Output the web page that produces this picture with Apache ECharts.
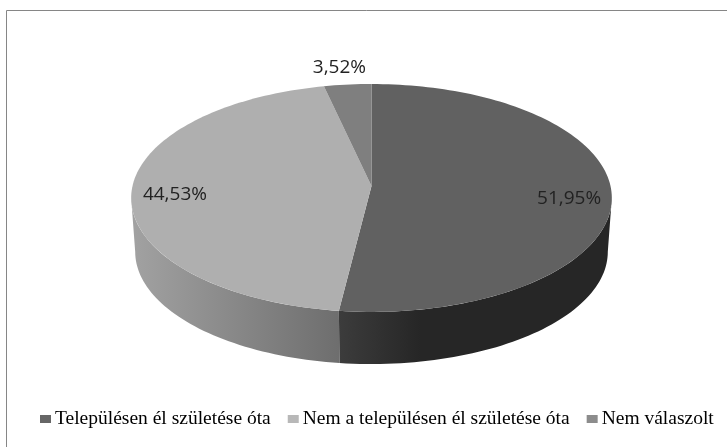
<!DOCTYPE html>
<html>
<head>
<meta charset="utf-8">
<style>html,body{margin:0;padding:0;background:#fff}#chart{width:727px;height:447px}</style>
<script src="https://cdn.jsdelivr.net/npm/echarts@6/dist/echarts.min.js"></script>
</head>
<body>
<div id="chart"></div>
<script>
const names = ['Településen él születése óta', 'Nem a településen él születése óta', 'Nem válaszolt']
const values = [51.95, 44.53, 3.52]
const labels = ['51,95%', '44,53%', '3,52%']

const topColors = ['#616161', '#afafaf', '#7f7f7f']
const legendColors = ['#666666', '#b8b8b8', '#8c8c8c']
const sideColors = [['#3c3c3c', '#262626'], ['#a2a2a2', '#6e6e6e'], ['#6e6e6e', '#6e6e6e']]
const labelRadius = [0.82, 0.82, 1.2]
const labelShift = [[1, 7], [0, 4], [-4, 1]]

// tilted pie: circle goes through a small perspective so the centre sits above the ellipse middle
const upperFace = { cx: 371.5, cy: 186, rx: 239, ry: 112.7, k: 0.105 }
const lowerFace = { cx: 371.5, cy: 240, rx: 235, ry: 111, k: 0.105 }
// the widest points of the faces, where the side wall starts and stops
const wallFrom = 96
const wallTo = 264

function project(p, deg, r) {
  const a = deg * Math.PI / 180
  const u = Math.sin(a) * r
  const v = Math.cos(a) * r
  const d = 1 + p.k * v
  return [p.cx + p.rx * u / d, p.cy - p.ry * v / d]
}

function arc(p, from, to) {
  const pts = []
  const n = Math.max(2, Math.ceil(Math.abs(to - from) / 1.5))
  for (let i = 0; i <= n; i++) pts.push(project(p, from + (to - from) * i / n, 1))
  return pts
}

const total = values.reduce((a, b) => a + b, 0)
let acc = 0
const starts = values.map(v => { const s = acc; acc += v; return s })

function renderSlice(idx) {
  return function (params, api) {
    const from = api.value(0) / total * 360
    const to = from + api.value(1) / total * 360
    const children = []

    // side wall, only the part turned to the viewer
    const sFrom = Math.max(from, wallFrom)
    const sTo = Math.min(to, wallTo)
    if (sTo > sFrom) {
      const upper = arc(upperFace, sFrom, sTo)
      const lower = arc(lowerFace, sFrom, sTo).reverse()
      children.push({
        type: 'polygon',
        shape: { points: upper.concat(lower) },
        style: {
          fill: new echarts.graphic.LinearGradient(0, 0, 1, 0, idx === 1
            ? [{ offset: 0, color: sideColors[idx][0] }, { offset: 1, color: sideColors[idx][1] }]
            : [{ offset: 0, color: sideColors[idx][0] }, { offset: 0.3, color: sideColors[idx][1] }, { offset: 1, color: sideColors[idx][1] }])
        }
      })
    }

    // top face
    children.push({
      type: 'polygon',
      shape: { points: [[upperFace.cx, upperFace.cy]].concat(arc(upperFace, from, to)) },
      style: { fill: topColors[idx] }
    })

    const mid = (from + to) / 2
    const pos = project(upperFace, mid, labelRadius[idx])
    children.push({
      type: 'text',
      x: pos[0] + labelShift[idx][0],
      y: pos[1] + labelShift[idx][1],
      style: {
        text: labels[idx],
        fill: '#222222',
        font: '19px "Open Sans"',
        align: 'center',
        verticalAlign: 'middle'
      }
    })
    return { type: 'group', children }
  }
}

const chart = echarts.init(document.getElementById('chart'), null, { renderer: 'canvas' })
chart.setOption({
  animation: false,
  backgroundColor: '#ffffff',
  graphic: [{
    type: 'polyline',
    shape: { points: [[6.5, 447], [6.5, 10.5], [727, 10.5]] },
    style: { fill: 'none', stroke: '#868686', lineWidth: 1 },
    silent: true
  }],
  legend: {
    left: 40,
    top: 409,
    icon: 'rect',
    itemWidth: 11,
    itemHeight: 8,
    itemGap: 17,
    padding: 0,
    textStyle: { fontFamily: '"Liberation Serif"', fontSize: 19.5, color: '#000000', padding: [0, 0, 0, -1] },
    data: names.map((name, i) => ({ name, itemStyle: { color: legendColors[i] } }))
  },
  series: names.map((name, i) => ({
    type: 'custom',
    name,
    coordinateSystem: 'none',
    itemStyle: { color: legendColors[i] },
    renderItem: renderSlice(i),
    data: [[starts[i], values[i]]]
  }))
})
</script>
</body>
</html>
